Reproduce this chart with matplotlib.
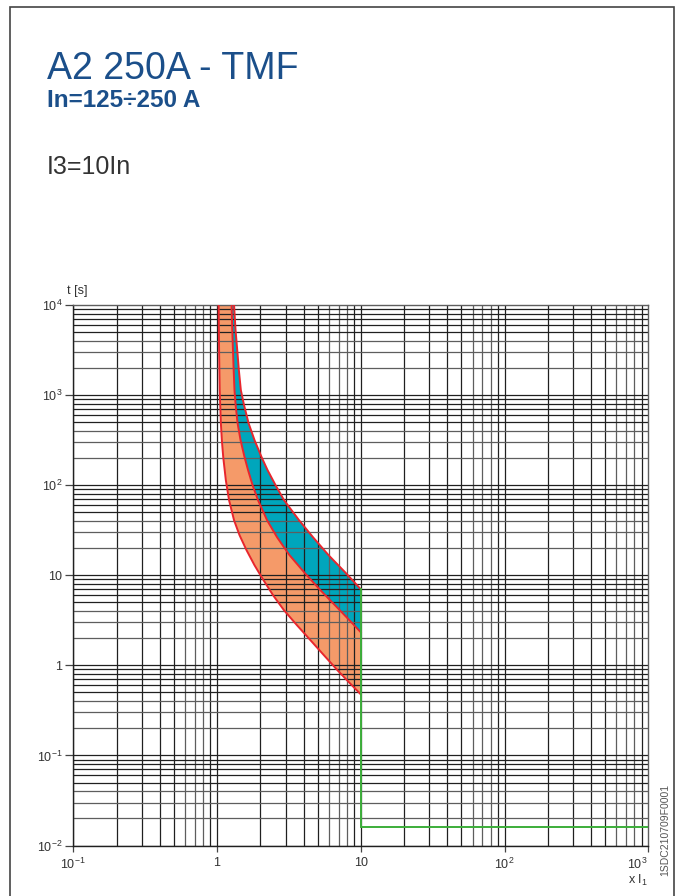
import numpy as np
import matplotlib.pyplot as plt
from matplotlib.patches import Rectangle
from matplotlib.transforms import ScaledTranslation

plt.rcParams["font.family"] = ["Liberation Sans", "DejaVu Sans"]
plt.rcParams["mathtext.fontset"] = "custom"
plt.rcParams["mathtext.rm"] = "Liberation Sans"
plt.rcParams["mathtext.it"] = "Liberation Sans"

# tripping curves: x = multiples of I1, t = seconds
min_x = [1.026, 1.033, 1.043, 1.063, 1.080, 1.104, 1.151, 1.212, 1.313, 1.434,
         1.604, 1.823, 2.106, 2.453, 2.925, 3.603, 4.472, 5.551, 6.892, 8.285, 10.0]
min_t = [10000, 3162, 1136, 489, 316, 205, 113.6, 68.1, 40.8, 27.8,
         18.96, 12.9, 8.80, 6.0, 4.08, 2.78, 1.896, 1.29, 0.880, 0.647, 0.476]

mid_x = [1.262, 1.276, 1.290, 1.305, 1.322, 1.347, 1.389, 1.457, 1.553, 1.643,
         1.766, 1.928, 2.228, 2.615, 3.194, 4.095, 5.248, 6.622, 8.350, 10.0]
mid_t = [10000, 5272, 3162, 1896, 1136, 774, 489, 316, 205, 147,
         100, 68.1, 40.8, 26.4, 16.7, 10.5, 6.81, 4.64, 3.16, 2.33]

max_x = [1.313, 1.345, 1.382, 1.418, 1.464, 1.541, 1.656, 1.823, 2.040, 2.245,
         2.553, 2.925, 3.720, 4.654, 5.968, 7.773, 10.0]
max_t = [10000, 5272, 3162, 1896, 1136, 774, 489, 316, 205, 147,
         100, 68.1, 40.8, 26.4, 16.7, 10.8, 6.99]

# magnetic trip (I3 = 10 In)
mag_x = [10, 10, 1000]
mag_t = [6.99, 0.016, 0.016]

x_ticks = [0.1, 1, 10, 100, 1000]
x_labels = ["$10^{-1}$", "1", "10", "$10^{2}$", "$10^{3}$"]
y_ticks = [0.01, 0.1, 1, 10, 100, 1000, 10000]
y_labels = ["$10^{-2}$", "$10^{-1}$", "1", "10", "$10^{2}$", "$10^{3}$", "$10^{4}$"]

W, H = 686, 896
fig = plt.figure(figsize=(W / 100, H / 100), dpi=100, facecolor="white")
ax = fig.add_axes([73.3 / W, 1 - 845.5 / H, 575 / W, 540.5 / H])
ax.set_xscale("log")
ax.set_yscale("log")
ax.set_xlim(0.1, 1000)
ax.set_ylim(0.01, 10000)

orange = "#f59a69"
teal = "#00a6bc"
red = "#e8262d"
green = "#3cae3a"

# bands
ax.fill(min_x + mid_x[::-1], min_t + mid_t[::-1], color=orange, lw=0, zorder=1)
ax.fill(mid_x + max_x[::-1], mid_t + max_t[::-1], color=teal, lw=0, zorder=1)

# grid over the bands
dark, grey = "#202020", "#5e5e5e"
for dec in [0.1, 1, 10, 100]:
    for m in range(1, 10):
        c = grey if m in (6, 7, 8) else dark
        ax.axvline(dec * m, color=c, lw=0.9, zorder=2)
for dec in [0.01, 0.1, 1, 10, 100, 1000]:
    for m in range(1, 10):
        c = grey if m in (2, 3, 4) else dark
        ax.axhline(dec * m, color=c, lw=0.9, zorder=2)

for xs, ts in [(min_x, min_t), (mid_x, mid_t), (max_x, max_t)]:
    ax.plot(xs, ts, color=red, lw=1.4, zorder=3)
ax.plot(mag_x, mag_t, color=green, lw=1.4, zorder=3, solid_joinstyle="miter")

for s in ["top", "right"]:
    ax.spines[s].set_color(grey)
    ax.spines[s].set_linewidth(1.0)
for s in ["left", "bottom"]:
    ax.spines[s].set_color(dark)
    ax.spines[s].set_linewidth(1.0)

ax.set_xticks(x_ticks)
ax.set_xticklabels(x_labels)
ax.set_yticks(y_ticks)
ax.set_yticklabels(y_labels)
ax.minorticks_off()
ax.tick_params(axis="y", length=6, width=0.9, color="#444", pad=2,
               labelsize=9, labelcolor="#333")
ax.tick_params(axis="x", length=4, width=0.9, color="#444", pad=4,
               labelsize=9, labelcolor="#333")
last = ax.get_xticklabels()[-1]
last.set_transform(last.get_transform() + ScaledTranslation(-0.11, 0, fig.dpi_scale_trans))

# texts
fig.text(47 / W, 1 - 79 / H, "A2 250A - TMF", fontsize=27, color="#1b4f8a", va="baseline")
fig.text(47 / W, 1 - 107 / H, "In=125÷250 A", fontsize=17.5, fontweight="bold",
         color="#1b4f8a", va="baseline")
fig.text(47 / W, 1 - 174 / H, "I3=10In", fontsize=18, color="#333333", va="baseline")
fig.text(67 / W, 1 - 291 / H, "t [s]", fontsize=9, color="#333", va="center")
fig.text(648 / W, 1 - 880 / H, "x I$_1$", fontsize=9, color="#333", ha="right", va="center")
fig.text(665 / W, 1 - 830 / H, "1SDC210709F0001", fontsize=7.5, color="#555",
         rotation=90, ha="center", va="center")

fig.patches.append(Rectangle((10 / W, -0.02), 664 / W, (H - 7) / H + 0.02,
                             transform=fig.transFigure, fill=False,
                             edgecolor="#444", lw=1.2))

fig.savefig("out.png", dpi=100, facecolor="white")
